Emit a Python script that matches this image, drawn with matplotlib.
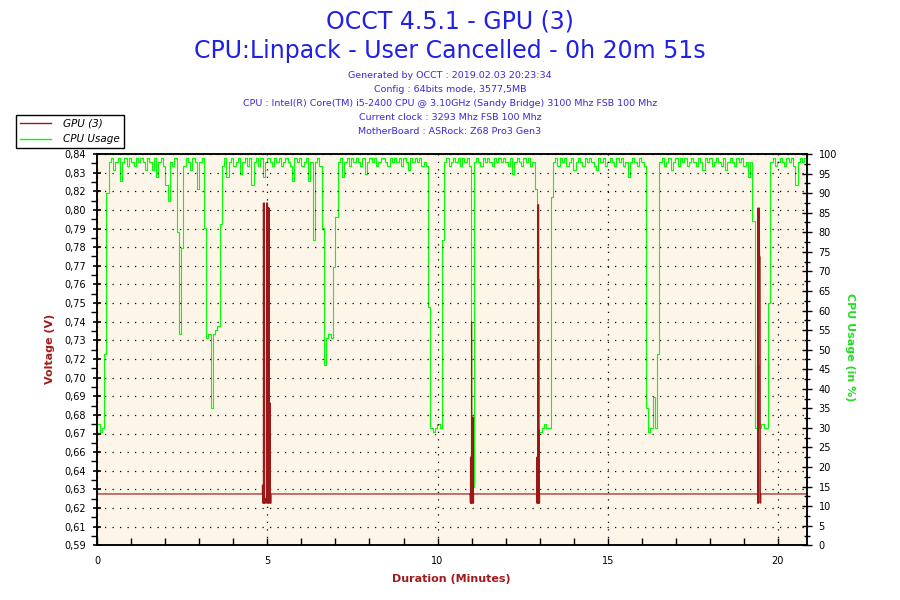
import matplotlib
matplotlib.use('Agg')
import matplotlib.pyplot as plt
import numpy as np
from matplotlib.ticker import FixedLocator, MultipleLocator, AutoMinorLocator
from matplotlib.lines import Line2D

# test length in minutes (0h 20m 51s)
duration_min = 20.85

# CPU usage in %, one sample every ~4 s over the whole run
cpu_usage = [
    31, 29, 30, 49, 90, 98, 99, 96, 98, 99, 93, 98, 99, 97, 99, 98, 97, 99, 98, 99,
    98, 96, 99, 98, 96, 99, 94, 98, 99, 97, 92, 88, 98, 97, 99, 80, 54, 76, 97, 99,
    98, 96, 99, 98, 91, 98, 99, 81, 53, 54, 35, 54, 55, 56, 82, 97, 99, 94, 98, 99,
    97, 98, 99, 95, 98, 99, 97, 99, 92, 98, 99, 97, 99, 94, 98, 99, 98, 97, 99, 98,
    99, 97, 98, 99, 98, 97, 93, 99, 98, 99, 97, 98, 99, 93, 98, 78, 98, 99, 97, 81,
    46, 53, 54, 53, 71, 84, 98, 99, 94, 98, 99, 97, 99, 98, 99, 98, 97, 99, 95, 98,
    99, 98, 99, 97, 98, 99, 99, 98, 97, 99, 98, 99, 98, 99, 97, 99, 98, 96, 99, 98,
    99, 98, 99, 97, 98, 97, 61, 30, 29, 30, 31, 30, 78, 98, 99, 97, 98, 99, 98, 99,
    97, 99, 98, 99, 97, 15, 98, 99, 98, 97, 99, 98, 99, 98, 97, 99, 98, 99, 98, 99,
    98, 97, 99, 95, 98, 99, 98, 97, 99, 98, 99, 97, 98, 91, 68, 29, 30, 31, 30, 30,
    89, 98, 99, 97, 99, 98, 99, 97, 98, 99, 96, 98, 99, 98, 97, 99, 98, 99, 98, 97,
    96, 99, 98, 99, 97, 98, 99, 98, 97, 99, 98, 99, 97, 98, 94, 98, 99, 98, 97, 99,
    98, 97, 35, 29, 30, 38, 30, 49, 98, 99, 97, 98, 99, 96, 98, 99, 97, 99, 98, 99,
    97, 98, 99, 98, 97, 99, 98, 96, 99, 98, 99, 97, 98, 99, 98, 97, 99, 96, 98, 99,
    98, 97, 99, 98, 99, 97, 98, 94, 98, 83, 30, 46, 30, 31, 30, 30, 62, 98, 99, 97,
    98, 99, 98, 97, 99, 98, 99, 97, 92, 98, 99, 98, 99, 98,
]

# GPU (3) voltage: time in seconds and value in V
gpu_sec = [
    0, 291.0, 291.3, 291.8, 292.9, 293.0, 293.5, 294.6, 294.7, 295.2, 296.0, 297.0,
    298.0, 298.9, 299.0, 299.5, 300.0, 300.5, 301.0, 301.5, 302.0, 302.5, 303.0,
    303.4, 304.7, 304.8, 305.3, 306.4, 306.5,
    657.5, 658.0, 658.2, 658.6, 659.9, 660.0, 660.4, 662.4, 662.5, 662.9, 663.5, 663.6,
    775.0, 775.2, 775.4, 775.8, 777.1, 777.2, 777.6, 777.9, 778.3, 778.7, 778.9,
    779.3, 780.0, 780.1,
    1164.3, 1164.6, 1164.8, 1165.3, 1165.8, 1166.3, 1166.8, 1167.3, 1167.8, 1168.8,
    1169.2, 1170.0, 1170.1, 1251.0,
]
gpu_volt = [
    0.6228, 0.6228, 0.6285, 0.6170, 0.6170, 0.8087, 0.6170, 0.6170, 0.8087, 0.6170,
    0.6200, 0.6170, 0.6200, 0.6170, 0.8087, 0.6170, 0.8087, 0.8055, 0.6170, 0.8055,
    0.6170, 0.8055, 0.8055, 0.6170, 0.6170, 0.6809, 0.6170, 0.6170, 0.6228,
    0.6228, 0.6170, 0.6464, 0.6170, 0.6170, 0.7327, 0.6170, 0.6170, 0.6720, 0.6170,
    0.6170, 0.6228,
    0.6228, 0.6170, 0.6464, 0.6170, 0.6170, 0.8075, 0.6170, 0.8075, 0.8075, 0.6170,
    0.6637, 0.6170, 0.6170, 0.6228,
    0.6228, 0.6170, 0.8055, 0.6170, 0.6829, 0.6170, 0.8055, 0.8055, 0.7743, 0.7743,
    0.6170, 0.6170, 0.6228, 0.6228,
]

volt_labels = ['0,59', '0,61', '0,62', '0,63', '0,64', '0,66', '0,67', '0,68',
               '0,69', '0,70', '0,72', '0,73', '0,74', '0,75', '0,76', '0,77',
               '0,78', '0,79', '0,80', '0,82', '0,83', '0,84']

title_1 = 'OCCT 4.5.1 - GPU (3)'
title_2 = 'CPU:Linpack - User Cancelled - 0h 20m 51s'
info_lines = [
    'Generated by OCCT : 2019.02.03 20:23:34',
    'Config : 64bits mode, 3577,5MB',
    'CPU : Intel(R) Core(TM) i5-2400 CPU @ 3.10GHz (Sandy Bridge) 3100 Mhz FSB 100 Mhz',
    'Current clock : 3293 Mhz FSB 100 Mhz',
    'MotherBoard : ASRock: Z68 Pro3 Gen3',
]

red = '#9b1818'
green = '#00ff00'
blue = '#2020e6'
cream = '#fdf6e8'

plt.rcParams['font.family'] = ['DejaVu Sans']

fig = plt.figure(figsize=(9, 6), dpi=100)
W, H = 900, 600
left, right, top, bottom = 97.3, 806.7, 154, 545.3
ax = fig.add_axes([left / W, 1 - bottom / H, (right - left) / W, (bottom - top) / H])
axr = ax.twinx()

# red (voltage) above green (cpu): put cpu axes underneath
ax.set_zorder(2)
axr.set_zorder(1)
ax.patch.set_visible(False)
axr.patch.set_visible(True)
axr.patch.set_facecolor(cream)

cpu_t = np.linspace(0, duration_min, len(cpu_usage))
gpu_t = np.array(gpu_sec) / 60.0

axr.plot(cpu_t, cpu_usage, color=green, lw=0.8, drawstyle='steps-post')
ax.plot(gpu_t, gpu_volt, color=red, lw=0.85)

ax.set_xlim(0, duration_min)
ax.set_ylim(0.59, 0.84)
axr.set_ylim(0, 100)

# left axis: 22 evenly spaced ticks with OCCT's rounded labels
vt = np.linspace(0.59, 0.84, len(volt_labels))
ax.yaxis.set_major_locator(FixedLocator(vt))
ax.set_yticklabels(volt_labels)
ax.yaxis.set_minor_locator(AutoMinorLocator(2))
axr.yaxis.set_major_locator(MultipleLocator(5))
axr.yaxis.set_minor_locator(AutoMinorLocator(2))
ax.xaxis.set_major_locator(MultipleLocator(5))
ax.xaxis.set_minor_locator(MultipleLocator(1))

ax.tick_params(axis='y', which='major', direction='inout', length=6, width=1.2,
               labelsize=7, pad=5)
ax.tick_params(axis='y', which='minor', direction='out', length=4, width=1)
axr.tick_params(axis='y', which='major', direction='inout', length=7, width=1,
                labelsize=7, pad=5)
axr.tick_params(axis='y', which='minor', direction='inout', length=5, width=1)
ax.tick_params(axis='x', which='both', direction='in', length=5, width=1,
               labelsize=7, pad=8)

ax.grid(True, which='major', color='black', linestyle=(0, (1, 5)), linewidth=0.9)
for a in (ax, axr):
    for s in a.spines.values():
        s.set_linewidth(1.1)

# header
fig.text(0.5, 1 - 21 / H, title_1, ha='center', va='center', fontsize=17, color=blue)
fig.text(0.5, 1 - 51 / H, title_2, ha='center', va='center', fontsize=17, color=blue)
for k, line in enumerate(info_lines):
    fig.text(0.5, 1 - (76 + 13.8 * k) / H, line, ha='center', va='center',
             fontsize=6.8, color='#3a2ad8')

# axis titles
fig.text(50 / W, 1 - 349 / H, 'Voltage (V)', rotation=90, ha='center', va='center',
         fontsize=8, fontweight='bold', color='#a01c1c')
fig.text(850 / W, 1 - 347 / H, 'CPU Usage (in %)', rotation=270, ha='center',
         va='center', fontsize=8, fontweight='bold', color='#22dd22')
fig.text(451 / W, 1 - 579 / H, 'Duration (Minutes)', ha='center', va='center',
         fontsize=8, fontweight='bold', color='#a01c1c')

handles = [Line2D([], [], color=red, lw=1), Line2D([], [], color=green, lw=1)]
leg = fig.legend(handles, ['GPU (3)', 'CPU Usage'], loc='upper left',
                 bbox_to_anchor=(16 / W, 1 - 115 / H), frameon=True, fancybox=False,
                 edgecolor='black', framealpha=1, prop={'style': 'italic', 'size': 7.5},
                 handlelength=3.0, borderpad=0.35, labelspacing=0.55,
                 handletextpad=1.2, borderaxespad=0)
leg.get_frame().set_linewidth(1.0)
leg.set_zorder(10)

fig.savefig('out.png', dpi=100)
